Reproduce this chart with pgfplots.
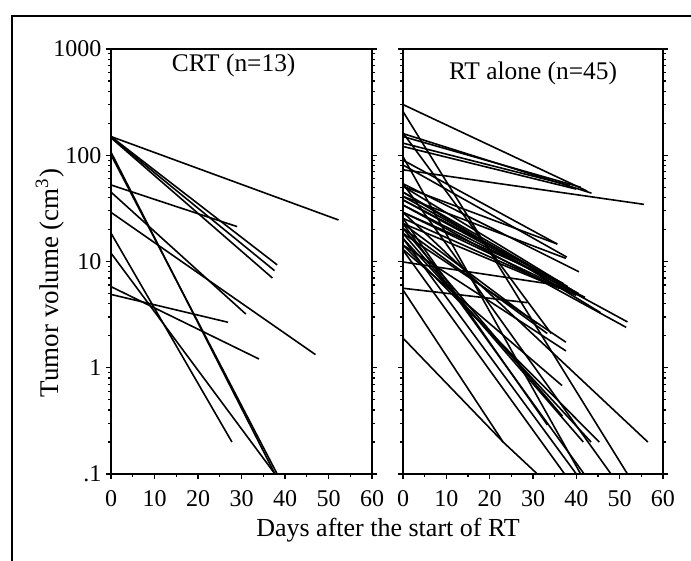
\documentclass[border=0pt]{standalone}
\usepackage{fontspec}
\setmainfont{Liberation Serif}
\usepackage{pgfplots}
\pgfplotsset{compat=1.18}
\begin{document}
\begin{tikzpicture}
\useasboundingbox (0pt,0pt) rectangle (345.5pt,280.5pt);
\draw[line width=0.9pt] (6pt,0pt) -- (6pt,272.5pt) -- (345.5pt,272.5pt);
\begin{axis}[ymode=log, scale only axis, width=130.5pt, height=212.5pt,
  at={(55.5pt,43.5pt)}, anchor=south west,
  xmin=0, xmax=60, ymin=0.1, ymax=1000,
  xtick={0,10,20,30,40,50,60}, minor x tick num=1,
  ytick={0.1,1,10,100,1000},
  minor ytick={0.2,0.3,0.4,0.5,0.6,0.7,0.8,0.9,2,3,4,5,6,7,8,9,20,30,40,50,60,70,80,90,200,300,400,500,600,700,800,900},
  yticklabels={.1,1,10,100,1000},
  tick align=outside, xtick pos=bottom, ytick pos=both,
  major tick length=2.5pt, minor tick length=1.5pt,
  axis line style={line width=0.8pt},
  every tick/.style={black, line width=0.6pt},
  tick label style={font=\fontsize{12}{14}\selectfont},
  xticklabel style={yshift=-2pt},
  yticklabel style={xshift=1.2pt},
  /pgf/number format/assume math mode=true,
  cycle list={{black,solid,mark=none}},
  every axis plot post/.append style={line width=0.8pt}]
\addplot coordinates {(0,150) (52.3,24.6)};
\addplot coordinates {(0,150) (38.2,9.3)};
\addplot coordinates {(0,146) (37.1,7.0)};
\addplot coordinates {(0,148) (37.6,8.2)};
\addplot coordinates {(0,107) (37.7,0.1)};
\addplot coordinates {(0,101) (38.2,0.1)};
\addplot coordinates {(0,52.5) (29.0,21.3)};
\addplot coordinates {(0,45) (31.0,3.2)};
\addplot coordinates {(0,29) (47.0,1.33)};
\addplot coordinates {(0,18.5) (27.8,0.2)};
\addplot coordinates {(0,12) (37.7,0.1)};
\addplot coordinates {(0,5.8) (34.0,1.21)};
\addplot coordinates {(0,4.9) (26.9,2.68)};
\node[anchor=north, inner sep=0pt, font=\fontsize{12.7}{14}\selectfont] at (rel axis cs:0.47,0.99) {CRT (n=13)};
\end{axis}
\begin{axis}[ymode=log, scale only axis, width=130pt, height=212.5pt,
  at={(201.5pt,43.5pt)}, anchor=south west,
  xmin=0, xmax=60, ymin=0.1, ymax=1000,
  xtick={0,10,20,30,40,50,60}, minor x tick num=1,
  ytick={0.1,1,10,100,1000},
  minor ytick={0.2,0.3,0.4,0.5,0.6,0.7,0.8,0.9,2,3,4,5,6,7,8,9,20,30,40,50,60,70,80,90,200,300,400,500,600,700,800,900},
  yticklabels={},
  tick align=outside, xtick pos=bottom, ytick pos=both,
  major tick length=2.5pt, minor tick length=1.5pt,
  axis line style={line width=0.8pt},
  every tick/.style={black, line width=0.6pt},
  tick label style={font=\fontsize{12}{14}\selectfont},
  xticklabel style={yshift=-2pt},
  /pgf/number format/assume math mode=true,
  cycle list={{black,solid,mark=none}},
  every axis plot post/.append style={line width=0.8pt}]
\addplot coordinates {(0,300) (42.5,46)};
\addplot coordinates {(0,160) (43.5,44)};
\addplot coordinates {(0,150) (41,50)};
\addplot coordinates {(0,130) (38.5,52)};
\addplot coordinates {(0,121) (40,48)};
\addplot coordinates {(0,73) (55.6,34.5)};
\addplot coordinates {(0,90) (35.6,14.6)};
\addplot coordinates {(0,81) (37.8,11)};
\addplot coordinates {(0,54) (40.6,8.0)};
\addplot coordinates {(0,258) (51.8,0.1)};
\addplot coordinates {(0,97) (41,0.1)};
\addplot coordinates {(0,162) (34.2,2.1)};
\addplot coordinates {(0,51) (38,5.8)};
\addplot coordinates {(0,45) (39,5.4)};
\addplot coordinates {(0,41) (40.5,5.0)};
\addplot coordinates {(0,38) (37,6.2)};
\addplot coordinates {(0,34) (42,4.6)};
\addplot coordinates {(0,29) (36,6.5)};
\addplot coordinates {(0,45) (45.6,3.3)};
\addplot coordinates {(0,38) (51.8,2.7)};
\addplot coordinates {(0,34) (51.5,2.4)};
\addplot coordinates {(0,9.9) (38,5.8)};
\addplot coordinates {(0,25.5) (40,4.8)};
\addplot coordinates {(0,22.8) (30.9,2.6)};
\addplot coordinates {(0,5.6) (28.7,4.1)};
\addplot coordinates {(0,20.5) (33.3,2.1)};
\addplot coordinates {(0,18.4) (37.6,1.74)};
\addplot coordinates {(0,14.3) (37.6,1.44)};
\addplot coordinates {(0,25.5) (33.3,0.29)};
\addplot coordinates {(0,20.5) (36.8,0.35)};
\addplot coordinates {(0,18.4) (41.6,0.2)};
\addplot coordinates {(0,16.5) (43.4,0.2)};
\addplot coordinates {(0,14.3) (45.3,0.2)};
\addplot coordinates {(0,29) (56.5,0.2)};
\addplot coordinates {(0,1.9) (23.1,0.2) (31,0.1)};
\addplot coordinates {(0,5.4) (23.1,0.2)};
\addplot coordinates {(0,12.8) (37.3,0.1)};
\addplot coordinates {(0,22.8) (41.8,0.1)};
\addplot coordinates {(0,54) (48,0.1)};
\addplot coordinates {(0,13) (36.7,0.68)};
\addplot coordinates {(0,41) (37.6,10.7)};
\addplot coordinates {(0,51) (35.6,14.6)};
\addplot coordinates {(0,29) (38.5,5.2)};
\addplot coordinates {(0,22.8) (36,5.6)};
\addplot coordinates {(0,16.5) (40,0.1)};
\node[anchor=north, inner sep=0pt, font=\fontsize{12.7}{14}\selectfont] at (rel axis cs:0.5,0.97) {RT alone (n=45)};
\end{axis}
\node[rotate=90, font=\fontsize{13.5}{15}\selectfont] at (25pt,139pt) {Tumor volume (cm\textsuperscript{3})};
\node[font=\fontsize{13}{15}\selectfont] at (194pt,15.5pt) {Days after the start of RT};
\end{tikzpicture}
\end{document}
